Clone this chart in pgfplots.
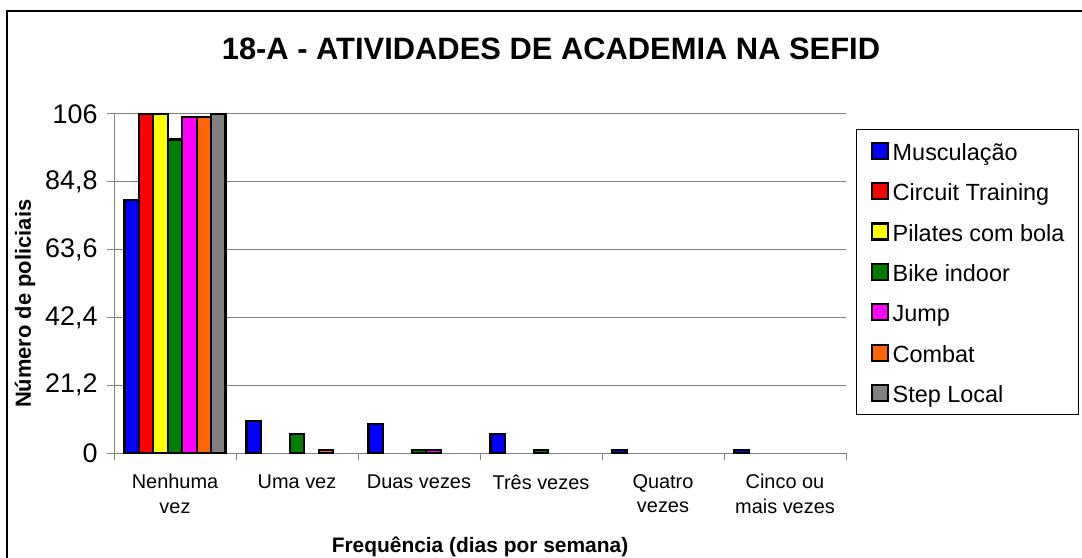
\documentclass[border=0pt]{standalone}
\usepackage{pgfplots}
\pgfplotsset{compat=1.18}
\usepackage{fontspec}
\setmainfont{Liberation Sans}
\definecolor{cMus}{RGB}{0,0,255}
\definecolor{cCir}{RGB}{255,0,0}
\definecolor{cPil}{RGB}{255,255,0}
\definecolor{cBik}{RGB}{0,128,0}
\definecolor{cJum}{RGB}{255,0,255}
\definecolor{cCom}{RGB}{255,102,0}
\definecolor{cSte}{RGB}{128,128,128}
\definecolor{gridgray}{RGB}{128,128,128}
\newcommand\ls{\rule[-4bp]{0pt}{25bp}}
\begin{document}
\begin{tikzpicture}
\useasboundingbox (0,0) rectangle (1082bp,558bp);
\draw[line width=1.2bp] (7bp,-20bp) -- (7bp,547bp) -- (1100bp,547bp);
\node[anchor=base, font=\fontsize{31}{36}\selectfont\bfseries] at (551bp,498bp) {18-A - ATIVIDADES DE ACADEMIA NA SEFID};
\begin{axis}[
  at={(114bp,105bp)}, anchor=south west,
  scale only axis, width=732bp, height=339bp,
  ybar=0pt, bar width=14.43bp,
  xmin=-0.5, xmax=5.5, ymin=0, ymax=106,
  clip=false,
  axis x line=bottom, axis y line=left,
  axis line style={-, draw=gridgray, line width=1bp},
  xtick={0,...,5},
  xticklabels={{Nenhuma\\vez},{Uma vez},{Duas vezes},{Três vezes},{Quatro\\vezes},{Cinco ou\\mais vezes}},
  xticklabel style={align=center, font=\fontsize{20}{24.5}\selectfont, anchor=north, yshift=-11bp},
  minor xtick={-0.5,0.5,...,5.5},
  major x tick style={draw=none},
  minor x tick style={draw=gridgray, line width=1bp},
  minor tick length=7bp,
  major tick length=7bp,
  tick align=outside,
  ytick={0,21.2,42.4,63.6,84.8,106},
  yticklabels={0,{21,2},{42,4},{63,6},{84,8},106},
  yticklabel style={font=\fontsize{27}{30}\selectfont, xshift=-6bp},
  major y tick style={draw=gridgray, line width=1bp},
  ymajorgrids, major grid style={draw=gridgray, line width=1bp},
  every axis x label/.style={at={(axis description cs:0.5,0)}, anchor=base, yshift=-99bp, font=\fontsize{21}{25}\selectfont\bfseries},
  every axis y label/.style={at={(axis description cs:-0.1216,0.44)}, anchor=center, rotate=90, font=\fontsize{22}{26}\selectfont\bfseries},
  xlabel={Frequência (dias por semana)},
  ylabel={Número de policiais},
  legend style={at={(axis description cs:1.0137,0.956)}, anchor=north west, draw=black, line width=1bp, fill=white,
    inner xsep=14bp, inner ysep=10bp, font=\fontsize{23.5}{27}\selectfont, row sep=17.9bp,
    nodes={inner sep=0bp},
    /tikz/every odd column/.append style={column sep=4bp}},
  legend cell align=left,
  legend image code/.code={\draw[#1, draw=black, line width=2.2bp] (0bp,-8bp) rectangle (16bp,8bp);},
]
\addplot[draw=black, line width=2.2bp, fill=cMus] coordinates {(0,79) (1,10) (2,9) (3,6) (4,1) (5,1)};
\addplot[draw=black, line width=2.2bp, fill=cCir] coordinates {(0,106)};
\addplot[draw=black, line width=2.2bp, fill=cPil] coordinates {(0,106)};
\addplot[draw=black, line width=2.2bp, fill=cBik] coordinates {(0,98) (1,6) (2,1) (3,1)};
\addplot[draw=black, line width=2.2bp, fill=cJum] coordinates {(0,105) (2,1)};
\addplot[draw=black, line width=2.2bp, fill=cCom] coordinates {(0,105) (1,1)};
\addplot[draw=black, line width=2.2bp, fill=cSte] coordinates {(0,106)};
\addlegendentry{\ls Musculação}
\addlegendentry{\ls Circuit Training}
\addlegendentry{\ls Pilates com bola}
\addlegendentry{\ls Bike indoor}
\addlegendentry{\ls Jump}
\addlegendentry{\ls Combat}
\addlegendentry{\ls Step Local}
\end{axis}
\end{tikzpicture}
\end{document}
